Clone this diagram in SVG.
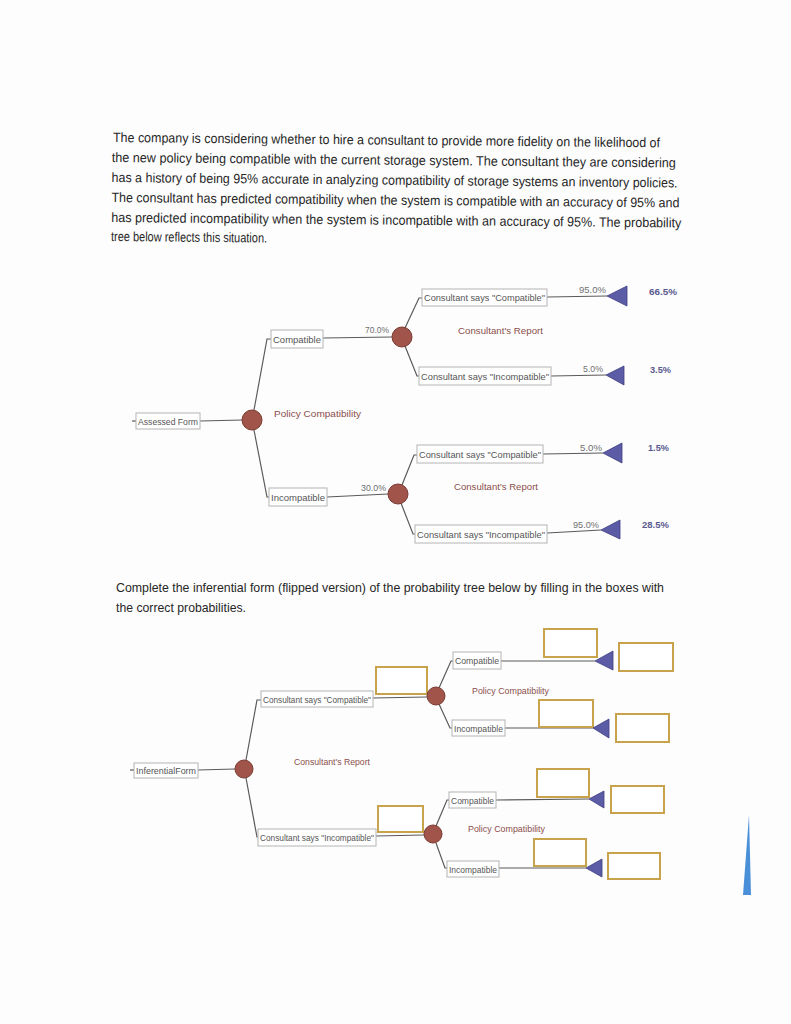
<svg xmlns="http://www.w3.org/2000/svg" width="791" height="1024" viewBox="0 0 791 1024">
<style>
.para{font-family:"Liberation Sans",Arial,sans-serif;font-size:13.5px;fill:#262626}
.lbl{font-family:"Liberation Sans",Arial,sans-serif;font-size:9px;fill:#555}
.box{fill:#fff;stroke:#b4b4b4;stroke-width:1}
.ln{fill:none;stroke:#5a5a5a;stroke-width:1.2}
.node{fill:#a0544a;stroke:#7a3b33;stroke-width:1}
.nlbl{font-family:"Liberation Sans",Arial,sans-serif;font-size:9px;fill:#8b4f4c}
.pct{font-family:"Liberation Sans",Arial,sans-serif;font-size:9px;fill:#707070}
.val{font-family:"Liberation Sans",Arial,sans-serif;font-size:9px;font-weight:bold;fill:#5a5a90}
.tri{fill:#5b5ba6;stroke:#3d3d80;stroke-width:0.8}
.gold{fill:#fff;stroke:#c9a24c;stroke-width:2}
</style>
<rect width="791" height="1024" fill="#fdfdfd"/>

<g id="intro" transform="rotate(0.55 113 141)">
<text class="para" x="113" y="142" textLength="547" lengthAdjust="spacingAndGlyphs">The company is considering whether to hire a consultant to provide more fidelity on the likelihood of</text>
<text class="para" x="112" y="162" textLength="564" lengthAdjust="spacingAndGlyphs">the new policy being compatible with the current storage system. The consultant they are considering</text>
<text class="para" x="112" y="182" textLength="566" lengthAdjust="spacingAndGlyphs">has a history of being 95% accurate in analyzing compatibility of storage systems an inventory policies.</text>
<text class="para" x="112" y="202" textLength="568" lengthAdjust="spacingAndGlyphs">The consultant has predicted compatibility when the system is compatible with an accuracy of 95% and</text>
<text class="para" x="112" y="222" textLength="570" lengthAdjust="spacingAndGlyphs">has predicted incompatibility when the system is incompatible with an accuracy of 95%. The probability</text>
<text class="para" x="112" y="241" textLength="156" lengthAdjust="spacingAndGlyphs">tree below reflects this situation.</text>
</g>

<g id="connectors">
<line class="ln" x1="132" y1="421" x2="136" y2="421"/>
<line class="ln" x1="200" y1="421" x2="243" y2="420"/>
<polyline class="ln" points="254,410 267,339 271,339"/>
<line class="ln" x1="323" y1="338" x2="392" y2="337"/>
<polyline class="ln" points="254,430 267,497 269,497"/>
<line class="ln" x1="327" y1="497" x2="388" y2="494"/>
<polyline class="ln" points="405,328 419,298 422,298"/>
<line class="ln" x1="547" y1="297" x2="607" y2="296"/>
<polyline class="ln" points="405,346 417,376 419,376"/>
<line class="ln" x1="551" y1="376" x2="606" y2="375"/>
<polyline class="ln" points="402,485 414,455 417,455"/>
<line class="ln" x1="543" y1="454" x2="603" y2="453"/>
<polyline class="ln" points="401,503 413,534 415,534"/>
<line class="ln" x1="547" y1="533" x2="601" y2="530"/>
<line class="ln" x1="130" y1="770" x2="134" y2="770"/>
<line class="ln" x1="198" y1="770" x2="235" y2="769"/>
<polyline class="ln" points="246,760 257,700 261,700"/>
<line class="ln" x1="373" y1="698" x2="427" y2="697"/>
<polyline class="ln" points="246,778 257,837 258,837"/>
<line class="ln" x1="376" y1="836" x2="424" y2="835"/>
<polyline class="ln" points="439,688 451,661 453,661"/>
<line class="ln" x1="501" y1="661" x2="595" y2="661"/>
<polyline class="ln" points="439,704 450,728 452,728"/>
<line class="ln" x1="505" y1="728" x2="593" y2="728"/>
<polyline class="ln" points="436,826 447,800 449,800"/>
<line class="ln" x1="496" y1="800" x2="589" y2="799"/>
<polyline class="ln" points="436,843 445,868 447,868"/>
<line class="ln" x1="499" y1="868" x2="586" y2="868"/>
</g>

<g id="assessed-form"><rect class="box" x="136" y="413" width="64" height="16"/><text class="lbl" x="138" y="424.5" textLength="60" lengthAdjust="spacingAndGlyphs">Assessed Form</text></g>
<g id="policy-node-1"><circle class="node" cx="252" cy="420" r="10"/><text class="nlbl" x="274" y="417" textLength="87" lengthAdjust="spacingAndGlyphs">Policy Compatibility</text></g>
<g id="compatible-1"><rect class="box" x="271" y="330" width="52" height="18"/><text class="lbl" x="273" y="342.5" textLength="48" lengthAdjust="spacingAndGlyphs">Compatible</text><text class="pct" x="365" y="333" textLength="24" lengthAdjust="spacingAndGlyphs">70.0%</text></g>
<g id="incompatible-1"><rect class="box" x="269" y="488" width="58" height="18"/><text class="lbl" x="271" y="500.5" textLength="54" lengthAdjust="spacingAndGlyphs">Incompatible</text><text class="pct" x="361" y="491" textLength="25" lengthAdjust="spacingAndGlyphs">30.0%</text></g>
<g id="report-node-1"><circle class="node" cx="402" cy="337" r="10"/><text class="nlbl" x="458" y="334" textLength="85" lengthAdjust="spacingAndGlyphs">Consultant's Report</text></g>
<g id="report-node-2"><circle class="node" cx="398" cy="494" r="10"/><text class="nlbl" x="454" y="490" textLength="84" lengthAdjust="spacingAndGlyphs">Consultant's Report</text></g>

<g id="cc-says-compatible"><rect class="box" x="422" y="289" width="125" height="17"/><text class="lbl" x="424" y="300.5" textLength="121" lengthAdjust="spacingAndGlyphs">Consultant says "Compatible"</text><text class="pct" x="579" y="293" textLength="27" lengthAdjust="spacingAndGlyphs">95.0%</text></g>
<g id="end-1"><polygon class="tri" points="607,296 627,286 627,306"/><text class="val" x="649" y="295" textLength="28" lengthAdjust="spacingAndGlyphs">66.5%</text></g>
<g id="cc-says-incompatible"><rect class="box" x="419" y="367" width="132" height="18"/><text class="lbl" x="421" y="379.5" textLength="128" lengthAdjust="spacingAndGlyphs">Consultant says "Incompatible"</text><text class="pct" x="583" y="372" textLength="20" lengthAdjust="spacingAndGlyphs">5.0%</text></g>
<g id="end-2"><polygon class="tri" points="606,375 624,366 624,385"/><text class="val" x="650" y="373" textLength="21" lengthAdjust="spacingAndGlyphs">3.5%</text></g>
<g id="ic-says-compatible"><rect class="box" x="417" y="445" width="126" height="18"/><text class="lbl" x="419" y="457.5" textLength="122" lengthAdjust="spacingAndGlyphs">Consultant says "Compatible"</text><text class="pct" x="580" y="451" textLength="22" lengthAdjust="spacingAndGlyphs">5.0%</text></g>
<g id="end-3"><polygon class="tri" points="603,453 622,443 622,463"/><text class="val" x="648" y="451" textLength="21" lengthAdjust="spacingAndGlyphs">1.5%</text></g>
<g id="ic-says-incompatible"><rect class="box" x="415" y="525" width="132" height="18"/><text class="lbl" x="417" y="537.5" textLength="128" lengthAdjust="spacingAndGlyphs">Consultant says "Incompatible"</text><text class="pct" x="573" y="528" textLength="26" lengthAdjust="spacingAndGlyphs">95.0%</text></g>
<g id="end-4"><polygon class="tri" points="601,530 620,520 620,539"/><text class="val" x="642" y="528" textLength="27" lengthAdjust="spacingAndGlyphs">28.5%</text></g>

<g id="instructions">
<text class="para" x="116" y="592" textLength="548" lengthAdjust="spacingAndGlyphs">Complete the inferential form (flipped version) of the probability tree below by filling in the boxes with</text>
<text class="para" x="116" y="612" textLength="130" lengthAdjust="spacingAndGlyphs">the correct probabilities.</text>
</g>

<g id="inferential-form"><rect class="box" x="134" y="763" width="64" height="15"/><text class="lbl" x="136" y="774" textLength="60" lengthAdjust="spacingAndGlyphs">InferentialForm</text></g>
<g id="report-node-root"><circle class="node" cx="244" cy="769" r="9"/><text class="nlbl" x="294" y="765" textLength="76" lengthAdjust="spacingAndGlyphs">Consultant's Report</text></g>
<g id="says-compatible"><rect class="box" x="261" y="691" width="112" height="16"/><text class="lbl" x="263" y="702.5" textLength="108" lengthAdjust="spacingAndGlyphs">Consultant says "Compatible"</text><rect class="gold" x="376" y="667" width="51" height="27"/></g>
<g id="says-incompatible"><rect class="box" x="258" y="829" width="118" height="17"/><text class="lbl" x="260" y="840.5" textLength="114" lengthAdjust="spacingAndGlyphs">Consultant says "Incompatible"</text><rect class="gold" x="378" y="806" width="45" height="26"/></g>
<g id="policy-node-2"><circle class="node" cx="436" cy="696" r="9"/><text class="nlbl" x="472" y="694" textLength="77" lengthAdjust="spacingAndGlyphs">Policy Compatibility</text></g>
<g id="policy-node-3"><circle class="node" cx="433" cy="834" r="9"/><text class="nlbl" x="468" y="832" textLength="77" lengthAdjust="spacingAndGlyphs">Policy Compatibility</text></g>

<g id="sc-compatible"><rect class="box" x="453" y="652" width="48" height="17"/><text class="lbl" x="455" y="663.5" textLength="44" lengthAdjust="spacingAndGlyphs">Compatible</text><rect class="gold" x="544" y="629" width="53" height="28"/></g>
<g id="end-5"><polygon class="tri" points="595,661 613,651 613,670"/><rect class="gold" x="619" y="643" width="54" height="28"/></g>
<g id="sc-incompatible"><rect class="box" x="452" y="720" width="53" height="16"/><text class="lbl" x="454" y="731.5" textLength="49" lengthAdjust="spacingAndGlyphs">Incompatible</text><rect class="gold" x="539" y="700" width="54" height="27"/></g>
<g id="end-6"><polygon class="tri" points="593,728 609,719 609,738"/><rect class="gold" x="616" y="714" width="53" height="28"/></g>
<g id="si-compatible"><rect class="box" x="449" y="792" width="47" height="16"/><text class="lbl" x="451" y="803.5" textLength="43" lengthAdjust="spacingAndGlyphs">Compatible</text><rect class="gold" x="537" y="769" width="52" height="28"/></g>
<g id="end-7"><polygon class="tri" points="589,799 604,791 604,808"/><rect class="gold" x="611" y="786" width="53" height="27"/></g>
<g id="si-incompatible"><rect class="box" x="447" y="861" width="52" height="16"/><text class="lbl" x="449" y="872.5" textLength="48" lengthAdjust="spacingAndGlyphs">Incompatible</text><rect class="gold" x="534" y="839" width="52" height="27"/></g>
<g id="end-8"><polygon class="tri" points="586,868 602,859 602,877"/><rect class="gold" x="608" y="853" width="52" height="26"/></g>

<polygon points="749,815 751,895 743,895" fill="#4a90d9"/>
</svg>
